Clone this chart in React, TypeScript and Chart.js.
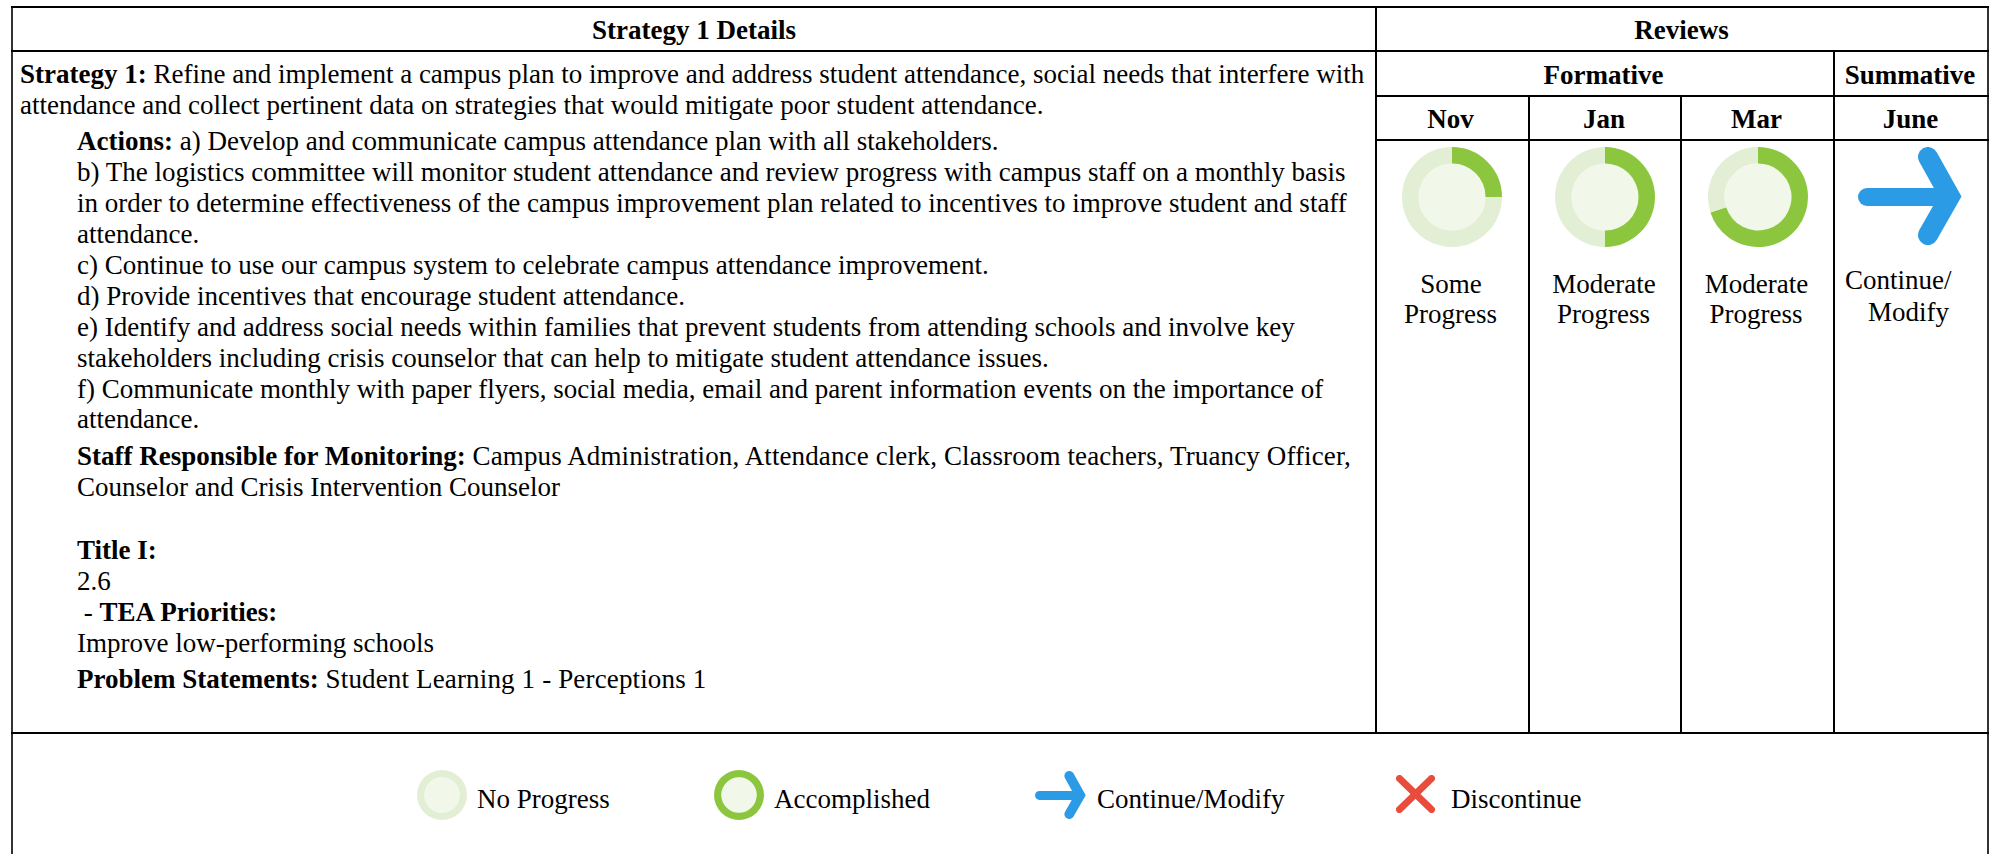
import React, { useEffect, useRef } from "react";
import { Chart, registerables } from "chart.js";

Chart.register(...registerables);

const months = ["Nov", "Jan", "Mar"];
const progressValues = [25, 50, 70];
const progressLabels = [["Some", "Progress"], ["Moderate", "Progress"], ["Moderate", "Progress"]];
const legendValues = [0, 100];
const legendLabels = ["No Progress", "Accomplished", "Continue/Modify", "Discontinue"];

const GREEN = "#8CC63F";
const LIGHT = "#E2EFD5";
const INNER = "#F1F8E9";

type Seg = { t: string; b?: boolean; ls?: number };
const textLines: { x: number; y: number; segs: Seg[] }[] = [
  { x: 20, y: 83, segs: [{ t: "Strategy 1:", b: true }, { t: " Refine and implement a campus plan to improve and address student attendance, social needs that interfere with" }] },
  { x: 20, y: 114, segs: [{ t: "attendance and collect pertinent data on strategies that would mitigate poor student attendance." }] },
  { x: 77, y: 150, segs: [{ t: "Actions:", b: true }, { t: " a) Develop and communicate campus attendance plan with all stakeholders." }] },
  { x: 77, y: 181, segs: [{ t: "b) The logistics committee will monitor student attendance and review progress with campus staff on a monthly basis" }] },
  { x: 77, y: 212, segs: [{ t: "in order to determine effectiveness of the campus improvement plan related to incentives to improve student and staff" }] },
  { x: 77, y: 243, segs: [{ t: "attendance." }] },
  { x: 77, y: 274, segs: [{ t: "c) Continue to use our campus system to celebrate campus attendance improvement." }] },
  { x: 77, y: 305, segs: [{ t: "d) Provide incentives that encourage student attendance." }] },
  { x: 77, y: 336, segs: [{ t: "e) Identify and address social needs within families that prevent students from attending schools and involve key" }] },
  { x: 77, y: 367, segs: [{ t: "stakeholders including crisis counselor that can help to mitigate student attendance issues." }] },
  { x: 77, y: 398, segs: [{ t: "f) Communicate monthly with paper flyers, social media, email and parent information events on the importance of" }] },
  { x: 77, y: 428, segs: [{ t: "attendance." }] },
  { x: 77, y: 465, segs: [{ t: "Staff Responsible for Monitoring:", b: true }, { t: " Campus Administration, Attendance clerk, Classroom teachers, Truancy Officer,", ls: 0.12 }] },
  { x: 77, y: 496, segs: [{ t: "Counselor and Crisis Intervention Counselor" }] },
  { x: 77, y: 559, segs: [{ t: "Title I:", b: true }] },
  { x: 77, y: 590, segs: [{ t: "2.6" }] },
  { x: 77, y: 621, segs: [{ t: " - " }, { t: "TEA Priorities:", b: true }] },
  { x: 77, y: 652, segs: [{ t: "Improve low-performing schools" }] },
  { x: 77, y: 688, segs: [{ t: "Problem Statements:", b: true }, { t: " Student Learning 1 - Perceptions 1", ls: 0.15 }] },
];

const centered: { cx: number; y: number; t: string; b?: boolean }[] = [
  { cx: 694, y: 39, t: "Strategy 1 Details", b: true },
  { cx: 1681.5, y: 39, t: "Reviews", b: true },
  { cx: 1603.5, y: 84, t: "Formative", b: true },
  { cx: 1910, y: 84, t: "Summative", b: true },
  { cx: 1450.5, y: 128, t: months[0], b: true },
  { cx: 1604, y: 128, t: months[1], b: true },
  { cx: 1756.5, y: 128, t: months[2], b: true },
  { cx: 1910.5, y: 128, t: "June", b: true },
];

const vLines = [[11, 6, 854], [1375, 6, 733], [1528, 95, 733], [1680, 95, 733], [1833, 51, 733], [1987, 6, 854]];
const hLines = [[11, 1989, 6], [11, 1989, 50], [1375, 1989, 95], [1375, 1989, 139], [11, 1989, 732]];

const innerDisc = {
  id: "innerDisc",
  beforeDatasetsDraw(chart: any) {
    const arc = chart.getDatasetMeta(0).data[0];
    if (!arc) return;
    const { ctx } = chart;
    ctx.save();
    ctx.fillStyle = INNER;
    ctx.beginPath();
    ctx.arc(arc.x, arc.y, arc.innerRadius, 0, Math.PI * 2);
    ctx.fill();
    ctx.restore();
  },
};

function Ring({ cx, cy, r, value, cut, label }: { cx: number; cy: number; r: number; value: number; cut: string; label: string }) {
  const ref = useRef<HTMLCanvasElement>(null);
  useEffect(() => {
    const chart = new Chart(ref.current!, {
      type: "doughnut",
      data: {
        labels: [label, "Remaining"],
        datasets: [{ data: [value, 100 - value], backgroundColor: [GREEN, LIGHT], borderWidth: 0 }],
      },
      options: {
        animation: false,
        responsive: false,
        cutout: cut,
        layout: { padding: 0 },
        plugins: { legend: { display: false }, tooltip: { enabled: false } },
      },
      plugins: [innerDisc],
    });
    return () => chart.destroy();
  }, []);
  return (
    <canvas
      ref={ref}
      width={r * 2}
      height={r * 2}
      style={{ position: "absolute", left: cx - r, top: cy - r, width: r * 2, height: r * 2 }}
    />
  );
}

function Arrow({ x, y, w, h }: { x: number; y: number; w: number; h: number }) {
  return (
    <svg style={{ position: "absolute", left: x, top: y }} width={w} height={h} viewBox="0 0 104 98">
      <g fill="none" stroke="#2B9BE6" strokeLinecap="round" strokeLinejoin="miter">
        <path d="M9 50 H92" strokeWidth={18} />
        <path d="M70 10 L92 49.5 L70 88" strokeWidth={20} strokeMiterlimit={3} />
      </g>
    </svg>
  );
}

function Cross({ x, y, w, h }: { x: number; y: number; w: number; h: number }) {
  return (
    <svg style={{ position: "absolute", left: x, top: y }} width={w} height={h} viewBox="0 0 39 38">
      <path d="M3.5 3.5 L35.5 34.5 M35.5 3.5 L3.5 34.5" fill="none" stroke="#E74C3C" strokeWidth={7} strokeLinecap="round" />
    </svg>
  );
}

const FONT_PX = 27;

function Line({ x, y, children, center, bold }: { x: number; y: number; children: React.ReactNode; center?: boolean; bold?: boolean }) {
  return (
    <div
      style={{
        position: "absolute",
        left: x,
        top: y - 24,
        lineHeight: "30px",
        height: 30,
        whiteSpace: "pre",
        fontWeight: bold ? 700 : 400,
        transform: center ? "translateX(-50%)" : undefined,
      }}
    >
      {children}
    </div>
  );
}

export default function App() {
  return (
    <div
      style={{
        position: "absolute",
        left: 0,
        top: 0,
        width: 1997,
        height: 854,
        overflow: "hidden",
        background: "#fff",
        color: "#000",
        fontFamily: '"Liberation Serif", serif',
        fontSize: FONT_PX,
      }}
    >
      {vLines.map(([x, a, b], i) => (
        <div key={"v" + i} style={{ position: "absolute", left: x, top: a, width: 2, height: b - a + 1, background: i === 0 || i === 5 ? "#333" : "#000" }} />
      ))}
      {hLines.map(([a, b, y], i) => (
        <div key={"h" + i} style={{ position: "absolute", left: a, top: y, width: b - a, height: 2, background: "#000" }} />
      ))}

      {centered.map((c, i) => (
        <Line key={"c" + i} x={c.cx} y={c.y} center bold={c.b}>
          {c.t}
        </Line>
      ))}

      {textLines.map((l, i) => (
        <Line key={"t" + i} x={l.x} y={l.y}>
          {l.segs.map((s, j) => (
            <span key={j} style={{ fontWeight: s.b ? 700 : 400, letterSpacing: s.ls ?? 0 }}>
              {s.t}
            </span>
          ))}
        </Line>
      ))}

      {progressValues.map((v, i) => {
        const cx = [1452, 1605, 1757.5][i];
        return (
          <React.Fragment key={i}>
            <Ring cx={cx} cy={197} r={50} value={v} cut="67%" label={months[i]} />
            <Line x={cx - 1} y={293} center>{progressLabels[i][0]}</Line>
            <Line x={cx - 1.5} y={323} center>{progressLabels[i][1]}</Line>
          </React.Fragment>
        );
      })}
      <Arrow x={1858} y={147} w={104} h={98} />
      <Line x={1845} y={289}>Continue/</Line>
      <Line x={1949} y={321}>
        <span style={{ position: "absolute", right: 0 }}>Modify</span>
      </Line>

      <Ring cx={441.5} cy={795} r={25} value={legendValues[0]} cut="71%" label={legendLabels[0]} />
      <Line x={477} y={808}>{legendLabels[0]}</Line>
      <Ring cx={739} cy={795} r={25} value={legendValues[1]} cut="71%" label={legendLabels[1]} />
      <Line x={774} y={808}>{legendLabels[1]}</Line>
      <Arrow x={1035} y={771} w={51} h={48} />
      <Line x={1097} y={808}>{legendLabels[2]}</Line>
      <Cross x={1396} y={775} w={39} h={38} />
      <Line x={1451} y={808}>{legendLabels[3]}</Line>
    </div>
  );
}
